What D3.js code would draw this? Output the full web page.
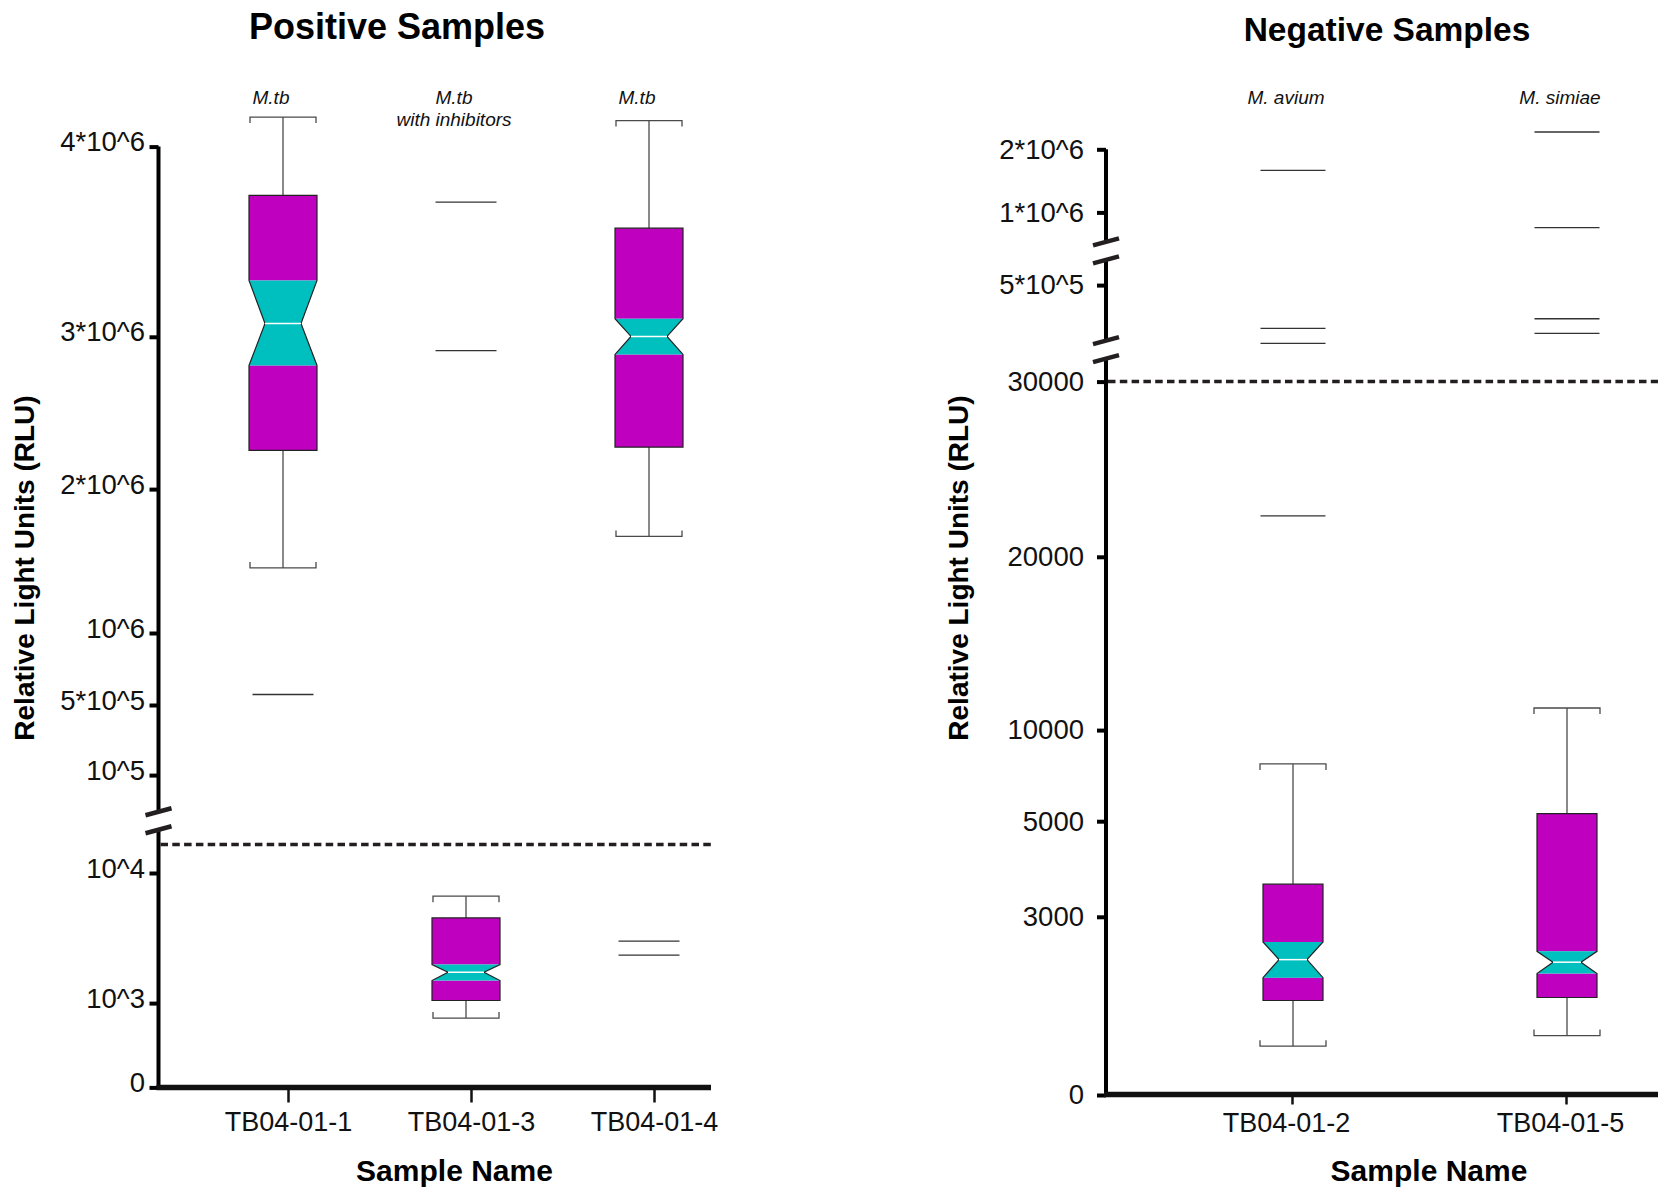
<!DOCTYPE html>
<html>
<head>
<meta charset="utf-8">
<script src="https://cdn.jsdelivr.net/npm/d3@7"></script>
<style>
    body { margin: 0; background: #fff; }
    text { font-family: "Liberation Sans", Arial, sans-serif; }
</style>
</head>
<body>
<div id="chart"></div>
<script>

// Positive samples
const posSamples = ['TB04-01-1', 'TB04-01-3', 'TB04-01-4']
const posSpecies = [['M.tb'], ['M.tb', 'with inhibitors'], ['M.tb']]
const posWhiskerHigh = [4155000, 8400, 4137000]
const posQ3 = [3744000, 6890, 3571000]
const posNotchHigh = [3296000, 3670, 3095000]
const posMedian = [3070000, 3130, 3002000]
const posNotchLow = [2812000, 2560, 2884000]
const posQ1 = [2254000, 1180, 2276000]
const posWhiskerLow = [1452000, 822, 1671000]
const posOutliers = [[573000], [3708000, 2909000], [5283, 4321]]
const posTicks = [0, 1e3, 1e4, 1e5, 5e5, 1e6, 2e6, 3e6, 4e6]
const posTickLabels = ['0', '10^3', '10^4', '10^5', '5*10^5', '10^6', '2*10^6', '3*10^6', '4*10^6']
const posCutoff = 30000
const posBreaks = [54000]

// Negative samples
const negSamples = ['TB04-01-2', 'TB04-01-5']
const negSpecies = [['M. avium'], ['M. simiae']]
const negWhiskerHigh = [8145, 11275]
const negQ3 = [3682, 5412]
const negNotchHigh = [2576, 2419]
const negMedian = [2279, 2236]
const negNotchLow = [1976, 2045]
const negQ1 = [1591, 1641]
const negWhiskerLow = [822, 1000]
const negOutliers = [[1667000, 289000, 216600, 22335], [2274000, 895000, 336000, 265000]]
const negTicks = [0, 3000, 5000, 10000, 20000, 30000, 5e5, 1e6, 2e6]
const negTickLabels = ['0', '3000', '5000', '10000', '20000', '30000', '5*10^5', '1*10^6', '2*10^6']
const negCutoff = 30000
const negBreaks = [735000, 186000]

const W = 1658, H = 1188

const svg = d3.select('#chart')
    .append('svg')
    .attr('width', W)
    .attr('height', H)

/** Builds one notched box panel with a broken y axis */
function drawPanel(g, d, lay) {

    // piecewise y scale, each stop of the broken axis has its own pixel row
    let domain = Array.from(new Set([...d.ticks, d.cutoff])).sort((a, b) => a - b)
    let y = d3.scaleLinear().domain(domain).range(lay.yRange)

    let x = d3.scalePoint().domain(d.samples).range(lay.xRange)

    let boxes = d.samples.map((s, i) => ({
        sample: s, species: d.species[i],
        wh: d.whiskerHigh[i], q3: d.q3[i], nh: d.notchHigh[i], med: d.median[i],
        nl: d.notchLow[i], q1: d.q1[i], wl: d.whiskerLow[i], out: d.outliers[i]
    }))

    // title
    g.append('text')
        .attr('x', lay.titleX)
        .attr('y', lay.titleY)
        .attr('text-anchor', 'middle')
        .attr('font-size', lay.titleSize)
        .attr('font-weight', 'bold')
        .text(d.title)

    // y axis label
    g.append('text')
        .attr('transform', 'translate(' + lay.yLabelX + ',568) rotate(-90)')
        .attr('text-anchor', 'middle')
        .attr('font-size', 28)
        .attr('font-weight', 'bold')
        .text('Relative Light Units (RLU)')

    // x axis title
    g.append('text')
        .attr('x', lay.xTitleX)
        .attr('y', 1181)
        .attr('text-anchor', 'middle')
        .attr('font-size', 30)
        .attr('font-weight', 'bold')
        .text('Sample Name')

    // y axis ticks and labels
    g.append('g')
        .attr('class', 'y-axis')
        .attr('transform', 'translate(' + lay.axisX + ',0)')
        .call(d3.axisLeft(y).tickValues(d.ticks).tickFormat((v, i) => d.tickLabels[i]).tickSize(9).tickPadding(lay.yPad))
        .call(a => a.select('.domain').remove())
        .call(a => a.selectAll('.tick line').attr('stroke', '#000').attr('stroke-width', 4))
        .call(a => a.selectAll('.tick text')
            .attr('font-size', 27.5)
            .attr('fill', '#111')
            .attr('font-family', '"Liberation Sans", Arial, sans-serif')
            .attr('dy', lay.yDy))

    // y axis line, cut where the breaks are
    let breakY = d.breaks.map(b => y(b)).sort((a, b) => a - b)
    let top = y(d.ticks[d.ticks.length - 1])
    let segs = []
    let start = top
    breakY.forEach(b => { segs.push([start, b - 9]); start = b + 9 })
    segs.push([start, lay.axisY + 2])

    g.append('g')
        .selectAll('line')
        .data(segs)
        .enter()
        .append('line')
        .attr('x1', lay.axisX).attr('x2', lay.axisX)
        .attr('y1', s => s[0]).attr('y2', s => s[1])
        .attr('stroke', '#000')
        .attr('stroke-width', 4)

    // break marks
    g.append('g')
        .selectAll('line')
        .data(breakY.flatMap(b => [b - 9, b + 9]))
        .enter()
        .append('line')
        .attr('x1', lay.axisX - 13).attr('x2', lay.axisX + 13)
        .attr('y1', v => v + 3.5).attr('y2', v => v - 3.5)
        .attr('stroke', '#231f20')
        .attr('stroke-width', 4.5)

    // x axis
    g.append('line')
        .attr('x1', lay.axisX - 2).attr('x2', lay.xEnd)
        .attr('y1', lay.axisY).attr('y2', lay.axisY)
        .attr('stroke', '#111')
        .attr('stroke-width', 5.5)

    g.append('g')
        .attr('class', 'x-axis')
        .attr('transform', 'translate(0,' + lay.axisY + ')')
        .call(d3.axisBottom(x).tickSize(lay.xTick).tickPadding(lay.xPad))
        .call(a => a.select('.domain').remove())
        .call(a => a.selectAll('.tick line').attr('stroke', '#111').attr('stroke-width', 2.5))
        .call(a => a.selectAll('.tick text')
            .attr('font-size', 27)
            .attr('fill', '#111')
            .attr('dx', lay.xDx)
            .attr('font-family', '"Liberation Sans", Arial, sans-serif'))

    // cutoff line
    g.append('line')
        .attr('x1', lay.axisX + 2).attr('x2', lay.xEnd)
        .attr('y1', y(d.cutoff)).attr('y2', y(d.cutoff))
        .attr('stroke', '#231f20')
        .attr('stroke-width', 3.5)
        .attr('stroke-dasharray', '7.5,4.3')

    let cx = b => x(b.sample) + lay.shift
    let hw = lay.boxW / 2, inset = 16, cap = 33, tip = 6

    // species labels
    g.append('g')
        .selectAll('text')
        .data(boxes)
        .enter()
        .append('text')
        .attr('y', 104)
        .attr('text-anchor', 'middle')
        .attr('font-size', 19)
        .attr('font-style', 'italic')
        .attr('fill', '#111')
        .selectAll('tspan')
        .data(b => b.species.map(t => ({ t: t, x: cx(b) + lay.labelShift })))
        .enter()
        .append('tspan')
        .attr('x', t => t.x)
        .attr('dy', (t, i) => i ? 22 : 0)
        .text(t => t.t)

    let box = g.append('g').attr('class', 'box')
        .selectAll('g')
        .data(boxes)
        .enter()
        .append('g')

    // whiskers
    box.append('line')
        .attr('x1', cx).attr('x2', cx)
        .attr('y1', b => y(b.wh)).attr('y2', b => y(b.q3))
        .attr('stroke', '#4a4a4a').attr('stroke-width', 1.3)
    box.append('line')
        .attr('x1', cx).attr('x2', cx)
        .attr('y1', b => y(b.q1)).attr('y2', b => y(b.wl))
        .attr('stroke', '#4a4a4a').attr('stroke-width', 1.3)
    box.append('path')
        .attr('d', b => 'M' + (cx(b) - cap) + ',' + (y(b.wh) + tip) + 'V' + y(b.wh) + 'H' + (cx(b) + cap) + 'V' + (y(b.wh) + tip))
        .attr('fill', 'none').attr('stroke', '#4a4a4a').attr('stroke-width', 1.3)
    box.append('path')
        .attr('d', b => 'M' + (cx(b) - cap) + ',' + (y(b.wl) - tip) + 'V' + y(b.wl) + 'H' + (cx(b) + cap) + 'V' + (y(b.wl) - tip))
        .attr('fill', 'none').attr('stroke', '#4a4a4a').attr('stroke-width', 1.3)

    // magenta quartile parts
    box.append('rect')
        .attr('x', b => cx(b) - hw).attr('width', lay.boxW)
        .attr('y', b => y(b.q3)).attr('height', b => y(b.nh) - y(b.q3))
        .attr('fill', '#bf00bf')
    box.append('rect')
        .attr('x', b => cx(b) - hw).attr('width', lay.boxW)
        .attr('y', b => y(b.nl)).attr('height', b => y(b.q1) - y(b.nl))
        .attr('fill', '#bf00bf')

    // cyan notch
    box.append('path')
        .attr('d', b => {
            let c = cx(b)
            return 'M' + (c - hw) + ',' + y(b.nh) + 'L' + (c + hw) + ',' + y(b.nh)
                + 'L' + (c + hw - inset) + ',' + y(b.med) + 'L' + (c + hw) + ',' + y(b.nl)
                + 'L' + (c - hw) + ',' + y(b.nl) + 'L' + (c - hw + inset) + ',' + y(b.med) + 'Z'
        })
        .attr('fill', '#00bfbf')

    // outline
    box.append('path')
        .attr('d', b => {
            let c = cx(b)
            return 'M' + (c - hw) + ',' + y(b.q3) + 'H' + (c + hw) + 'V' + y(b.nh)
                + 'L' + (c + hw - inset) + ',' + y(b.med) + 'L' + (c + hw) + ',' + y(b.nl)
                + 'V' + y(b.q1) + 'H' + (c - hw) + 'V' + y(b.nl)
                + 'L' + (c - hw + inset) + ',' + y(b.med) + 'L' + (c - hw) + ',' + y(b.nh) + 'Z'
        })
        .attr('fill', 'none').attr('stroke', '#222').attr('stroke-width', 1.2)

    // median
    box.append('line')
        .attr('x1', b => cx(b) - hw + inset).attr('x2', b => cx(b) + hw - inset)
        .attr('y1', b => y(b.med)).attr('y2', b => y(b.med))
        .attr('stroke', '#fff').attr('stroke-width', 1.5)

    // outliers
    box.selectAll('.outlier')
        .data(b => b.out.map(v => ({ v: v, c: cx(b) })))
        .enter()
        .append('line')
        .attr('class', 'outlier')
        .attr('x1', o => o.c - lay.outW / 2).attr('x2', o => o.c + lay.outW / 2)
        .attr('y1', o => y(o.v)).attr('y2', o => y(o.v))
        .attr('stroke', '#333').attr('stroke-width', 1.3)
}

drawPanel(svg.append('g'), {
    title: 'Positive Samples',
    samples: posSamples, species: posSpecies,
    whiskerHigh: posWhiskerHigh, q3: posQ3, notchHigh: posNotchHigh, median: posMedian,
    notchLow: posNotchLow, q1: posQ1, whiskerLow: posWhiskerLow, outliers: posOutliers,
    ticks: posTicks, tickLabels: posTickLabels, cutoff: posCutoff, breaks: posBreaks
}, {
    axisX: 158.5, axisY: 1087.5, xEnd: 711,
    yRange: [1087.4, 1003.1, 873, 844.5, 775.1, 705, 633, 489.1, 336.8, 146.6],
    xRange: [288, 654], shift: -5, labelShift: -12, boxW: 68, outW: 61,
    xTick: 15, xPad: 9, xDx: 0, yPad: 4.5, yDy: '0.15em',
    titleX: 397, titleY: 39, titleSize: 36, yLabelX: 34, xTitleX: 454.5
})

drawPanel(svg.append('g'), {
    title: 'Negative Samples',
    samples: negSamples, species: negSpecies,
    whiskerHigh: negWhiskerHigh, q3: negQ3, notchHigh: negNotchHigh, median: negMedian,
    notchLow: negNotchLow, q1: negQ1, whiskerLow: negWhiskerLow, outliers: negOutliers,
    ticks: negTicks, tickLabels: negTickLabels, cutoff: negCutoff, breaks: negBreaks
}, {
    axisX: 1106, axisY: 1094.5, xEnd: 1658,
    yRange: [1095, 916.8, 821.2, 730.1, 556.8, 381.6, 285.1, 212.4, 149.3],
    xRange: [1292, 1566], shift: 1, labelShift: -7, boxW: 60, outW: 65,
    xTick: 10, xPad: 8.5, xDx: -6, yPad: 13, yDy: '0.32em',
    titleX: 1387, titleY: 41, titleSize: 33.5, yLabelX: 968, xTitleX: 1429
})

</script>
</body>
</html>
